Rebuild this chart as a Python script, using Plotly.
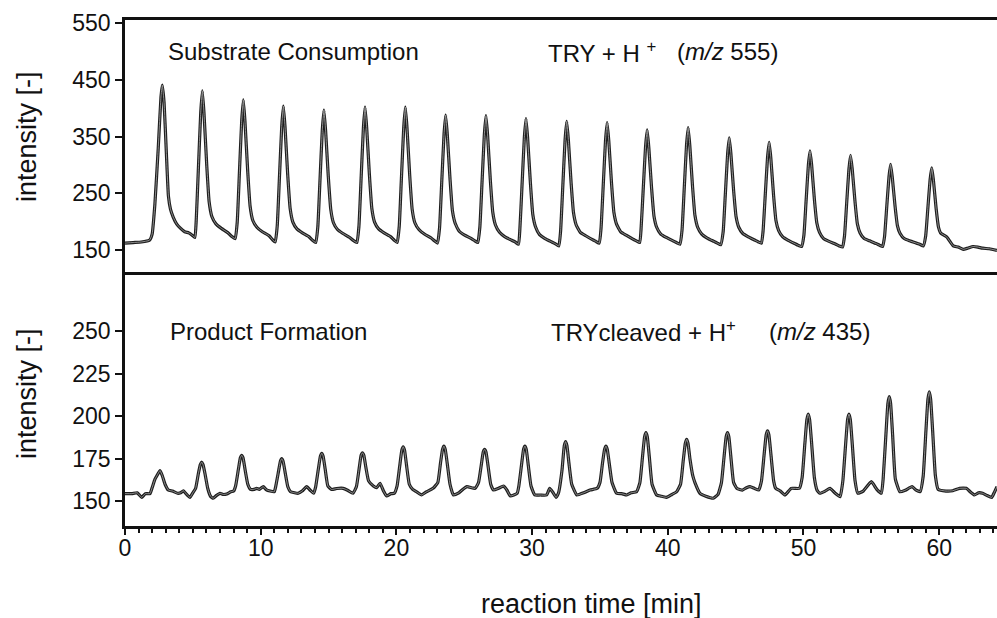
import plotly.graph_objects as go

# ---------------- data ----------------
top_time = [
    0.0, 0.6, 1.2, 1.8, 2.0, 2.2, 2.45, 2.65, 2.75, 2.88, 3.05, 3.2, 3.35, 3.55, 3.8, 4.1, 4.4, 4.7, 4.95, 5.15,
    5.25, 5.40, 5.58, 5.70, 5.82, 6.02, 6.20, 6.40, 6.70, 7.10, 7.60, 7.85, 8.12,
    8.27, 8.42, 8.60, 8.72, 8.84, 9.04, 9.22, 9.42, 9.72, 10.12, 10.62, 10.87, 11.07,
    11.22, 11.37, 11.55, 11.67, 11.79, 11.99, 12.17, 12.37, 12.67, 13.07, 13.57, 13.82, 14.06,
    14.21, 14.36, 14.54, 14.66, 14.78, 14.98, 15.16, 15.36, 15.66, 16.06, 16.56, 16.81, 17.09,
    17.24, 17.39, 17.57, 17.69, 17.81, 18.01, 18.19, 18.39, 18.69, 19.09, 19.59, 19.84, 20.06,
    20.21, 20.36, 20.54, 20.66, 20.78, 20.98, 21.16, 21.36, 21.66, 22.06, 22.56, 22.81, 23.03,
    23.18, 23.33, 23.51, 23.63, 23.75, 23.95, 24.13, 24.33, 24.63, 25.03, 25.53, 25.78, 26.00,
    26.15, 26.30, 26.48, 26.60, 26.72, 26.92, 27.10, 27.30, 27.60, 28.00, 28.50, 28.75, 29.00,
    29.10, 29.25, 29.43, 29.55, 29.67, 29.87, 30.05, 30.25, 30.55, 30.95, 31.45, 31.70, 31.97,
    32.10, 32.25, 32.43, 32.55, 32.67, 32.87, 33.05, 33.25, 33.55, 33.95, 34.45, 34.70, 34.95,
    35.08, 35.23, 35.41, 35.53, 35.65, 35.85, 36.03, 36.23, 36.53, 36.93, 37.43, 37.68, 37.93,
    38.03, 38.18, 38.36, 38.48, 38.60, 38.80, 38.98, 39.18, 39.48, 39.88, 40.38, 40.63, 40.90,
    41.05, 41.20, 41.38, 41.50, 41.62, 41.82, 42.00, 42.20, 42.50, 42.90, 43.40, 43.65, 43.90,
    44.08, 44.23, 44.41, 44.53, 44.65, 44.85, 45.03, 45.23, 45.53, 45.93, 46.43, 46.68, 46.90,
    47.02, 47.17, 47.35, 47.47, 47.59, 47.79, 47.97, 48.17, 48.47, 48.87, 49.37, 49.62, 49.86,
    50.03, 50.18, 50.36, 50.48, 50.60, 50.80, 50.98, 51.18, 51.48, 51.88, 52.38, 52.63, 52.88,
    53.02, 53.17, 53.35, 53.47, 53.59, 53.79, 53.97, 54.17, 54.47, 54.87, 55.37, 55.62, 55.83,
    55.97, 56.12, 56.30, 56.42, 56.54, 56.74, 56.92, 57.12, 57.42, 57.82, 58.32, 58.57, 58.83,
    59.00, 59.15, 59.33, 59.45, 59.57, 59.77, 59.95, 60.10, 60.55, 61.04, 61.40, 61.78, 62.10, 62.50, 62.85, 63.20, 63.70, 64.26,
]
top_intensity = [
    162, 163, 164, 167, 178, 230, 330, 420, 441, 410, 320, 245, 222, 208, 196, 188, 182, 180, 176, 172,
    203, 289, 392, 431, 392, 301, 235, 209, 196, 188, 180, 174, 170,
    199, 280, 378, 415, 377, 290, 227, 202, 190, 182, 175, 168, 164,
    193, 272, 368, 404, 368, 283, 223, 199, 187, 180, 173, 167, 163,
    191, 268, 362, 397, 362, 280, 222, 198, 186, 179, 172, 167, 163,
    192, 271, 366, 402, 366, 283, 223, 199, 187, 180, 173, 167, 163,
    192, 271, 366, 402, 366, 282, 222, 198, 186, 178, 171, 166, 162,
    189, 264, 354, 388, 354, 276, 219, 197, 183, 176, 170, 166, 163,
    190, 264, 353, 387, 353, 274, 217, 194, 181, 173, 167, 164, 160,
    187, 260, 349, 382, 348, 270, 213, 191, 177, 170, 164, 161, 157,
    183, 256, 344, 377, 345, 270, 216, 194, 181, 175, 168, 165, 162,
    188, 258, 343, 375, 343, 269, 216, 195, 182, 176, 169, 166, 163,
    187, 253, 332, 362, 331, 261, 210, 190, 178, 172, 166, 163, 160,
    185, 253, 335, 366, 335, 263, 211, 190, 178, 171, 165, 162, 159,
    182, 244, 320, 348, 320, 255, 209, 190, 179, 173, 167, 164, 162,
    183, 242, 313, 340, 313, 248, 202, 184, 173, 167, 161, 158, 156,
    176, 232, 300, 325, 300, 240, 198, 181, 170, 165, 160, 157, 155,
    174, 228, 293, 317, 293, 237, 196, 180, 170, 166, 161, 158, 156,
    173, 221, 279, 301, 279, 229, 193, 179, 170, 166, 162, 160, 157,
    174, 219, 274, 295, 274, 224, 190, 180, 173, 157, 155, 151, 153, 156, 155, 153, 152, 149,
]

bottom_time = [
    0.0, 0.5, 0.9, 1.23, 1.5, 1.84, 2.0, 2.21, 2.35, 2.58, 2.75, 2.95, 3.19, 3.5, 3.87, 4.1, 4.3, 4.55, 4.79, 5.0,
    5.2, 5.4, 5.55, 5.65, 5.75, 5.9, 6.1, 6.3, 6.5, 6.75, 7.0, 7.25, 7.5, 7.8, 8.0,
    8.15, 8.35, 8.5, 8.6, 8.7, 8.85, 9.05, 9.25, 9.5, 9.7, 9.9, 10.19, 10.4, 10.7, 11.0,
    11.1, 11.3, 11.45, 11.55, 11.65, 11.8, 12.0, 12.2, 12.5, 12.76, 13.05, 13.39, 13.65, 13.9,
    14.05, 14.25, 14.4, 14.5, 14.6, 14.75, 14.95, 15.23, 15.6, 16.07, 16.4, 16.8,
    17.05, 17.25, 17.4, 17.5, 17.6, 17.75, 17.95, 18.3, 18.55, 18.8, 19.05, 19.28, 19.6, 19.85,
    20.05, 20.25, 20.4, 20.5, 20.6, 20.75, 20.95, 21.2, 21.5, 21.85, 22.2, 22.7,
    23.05, 23.25, 23.4, 23.5, 23.6, 23.75, 23.95, 24.2, 24.6, 24.9, 25.2, 25.8,
    26.05, 26.25, 26.4, 26.5, 26.6, 26.75, 26.95, 27.15, 27.5, 27.9, 28.15, 28.4, 28.9,
    29.02, 29.22, 29.37, 29.47, 29.57, 29.72, 29.92, 30.2, 30.6, 31.07, 31.3, 31.55, 31.77,
    31.95, 32.2, 32.37, 32.47, 32.57, 32.72, 32.92, 33.3, 33.8, 34.27, 34.8,
    35.0, 35.19, 35.34, 35.44, 35.54, 35.69, 35.89, 36.23, 36.6, 36.97, 37.3, 37.7,
    37.94, 38.14, 38.29, 38.39, 38.49, 38.64, 38.84, 39.18, 39.5, 39.9, 40.3, 40.65,
    40.94, 41.14, 41.29, 41.39, 41.49, 41.64, 41.84, 42.0, 42.37, 42.8, 43.35, 43.7,
    43.95, 44.15, 44.3, 44.4, 44.5, 44.65, 44.85, 45.1, 45.5, 45.8, 46.06, 46.4, 46.7,
    46.9, 47.1, 47.25, 47.35, 47.45, 47.6, 47.8, 47.95, 48.3, 48.63, 49.1, 49.7,
    49.9, 50.1, 50.25, 50.35, 50.45, 50.6, 50.8, 51.0, 51.2, 51.6, 51.95, 52.3, 52.7,
    52.9, 53.1, 53.25, 53.35, 53.45, 53.6, 53.8, 54.0, 54.4, 55.0, 55.4, 55.74,
    55.87, 56.07, 56.22, 56.32, 56.42, 56.57, 56.77, 57.1, 57.5, 58.0, 58.3, 58.6,
    58.82, 59.02, 59.17, 59.27, 59.37, 59.52, 59.72, 59.92, 60.5, 61.0, 61.5, 62.0, 62.3, 62.6, 62.9, 63.2, 63.5, 63.87, 64.05, 64.26,
]
bottom_intensity = [
    154.5, 154.5, 155, 152.3, 154.5, 154.5, 158, 163, 165, 168, 165, 160, 156.6, 156, 154.7, 155, 156.2, 154, 152.3, 155,
    157.5, 166, 171.5, 173, 171.5, 166, 157.5, 153, 151.8, 153.5, 154.7, 154, 154.3, 155.6, 156,
    159, 168.5, 175.5, 177, 175.5, 168.5, 160, 157, 157, 157.6, 157, 158.6, 156.9, 156, 155.6,
    158.5, 167, 173.5, 175, 173.5, 167, 158.5, 155.6, 155, 154.7, 156, 158.6, 156.5, 154.7,
    158.5, 169, 176.5, 178.2, 176.5, 169, 159, 156.9, 157.5, 157.6, 156.5, 154.7,
    158.5, 169, 177, 178.5, 177, 170, 162, 159, 158, 160.6, 156, 153.1, 154.5, 154.7,
    159, 171, 180, 182, 180, 171, 160, 157, 155.5, 153.7, 155.5, 157.6,
    161, 172.5, 180.5, 182.4, 180.5, 172, 160, 153.7, 155, 157, 158.6, 157.6,
    161, 171, 179, 180.5, 179, 171, 160, 156.6, 157.5, 159, 156.5, 153.1, 154.7,
    158.8, 171.3, 180.5, 182.4, 180.5, 171, 159, 153.7, 153.7, 153.7, 157.6, 155, 152.3,
    155, 168, 182.5, 185, 182.5, 172, 160, 153.7, 155, 156.6, 157.6,
    161, 172.5, 180.5, 182.4, 180.5, 172, 161, 154.7, 154.5, 153.7, 155, 155.6,
    160.8, 176.4, 187.8, 190.3, 187.8, 176, 160, 153.7, 153, 152.3, 154, 155.6,
    160, 174, 184, 186.4, 184, 174.5, 165, 161, 154.7, 153, 151.8, 154,
    160.8, 176.4, 187.8, 190.3, 187.8, 176, 161, 157.5, 156.6, 158, 158.6, 157.5, 156.6,
    161.8, 177.5, 189, 191.4, 189, 177.5, 162, 157.6, 156, 153.7, 157.6, 157.6,
    164, 183.8, 198, 201.2, 198, 184, 164, 156.5, 154.7, 156, 157.6, 155, 152.7,
    162, 183, 198, 201.2, 198, 183, 162, 154.7, 156, 161.5, 157, 154.7,
    163.2, 188.7, 207.4, 211.4, 207.4, 188.7, 163, 155.6, 156.5, 158.6, 156.5, 155.7,
    164.7, 191, 210, 214.3, 210, 191, 165, 157, 156, 156.2, 157.6, 157.6, 155.5, 153.7, 155, 154.7, 153.5, 152.3, 155, 158.6,
]

x_ticks = [0, 10, 20, 30, 40, 50, 60]
top_ticks = [150, 250, 350, 450, 550]
bottom_ticks = [150, 175, 200, 225, 250]

# ---------------- figure ----------------
FONT = "Liberation Sans, Arial, Helvetica, sans-serif"
INK = "#111111"
fig = go.Figure()

for xs, ys, xa, ya in [(top_time, top_intensity, "x", "y"),
                       (bottom_time, bottom_intensity, "x2", "y2")]:
    fig.add_trace(go.Scatter(x=xs, y=ys, xaxis=xa, yaxis=ya, mode="lines",
                             line=dict(color="#1e1e1e", width=3.2, shape="spline", smoothing=0.4),
                             hoverinfo="skip", showlegend=False))
    fig.add_trace(go.Scatter(x=xs, y=ys, xaxis=xa, yaxis=ya, mode="lines",
                             line=dict(color="#9a9a9a", width=0.9, shape="spline", smoothing=0.4),
                             hoverinfo="skip", showlegend=False))

split = 0.502
axis_common = dict(showgrid=False, zeroline=False, showline=True, linecolor=INK, linewidth=2.6)

fig.update_layout(
    width=997, height=618,
    margin=dict(l=125, r=0, t=20, b=92),
    paper_bgcolor="white", plot_bgcolor="white",
    font=dict(family=FONT, color=INK),
    xaxis=dict(domain=[0, 1], anchor="y", range=[0, 64.26], mirror=True,
               showticklabels=False, ticks="", **axis_common),
    xaxis2=dict(domain=[0, 1], anchor="y2", range=[0, 64.26], tickvals=x_ticks,
                ticks="outside", ticklen=6, tickwidth=2, tickcolor=INK,
                ticklabelstandoff=-6,
                minor=dict(dtick=1, tick0=0, ticks="outside", ticklen=4, tickwidth=1.5, tickcolor=INK),
                tickfont=dict(size=23, family=FONT, color=INK), **axis_common),
    yaxis=dict(domain=[split, 1], anchor="x", range=[111, 556], tickvals=top_ticks,
               ticks="outside", ticklen=7, tickwidth=2, tickcolor=INK,
               tickfont=dict(size=23, family=FONT, color=INK), **axis_common),
    yaxis2=dict(domain=[0, split], anchor="x2", range=[135.5, 284.6], tickvals=bottom_ticks,
                ticks="outside", ticklen=7, tickwidth=2, tickcolor=INK,
                tickfont=dict(size=23, family=FONT, color=INK), **axis_common),
)

def px_x(px):
    return (px - 125) / 872.0

def px_y(py):
    return (526 - py) / 506.0

ann = [
    dict(text="Substrate Consumption", x=px_x(166), y=px_y(52), size=24),
    dict(text="TRY + H <sup>+</sup>", x=px_x(546), y=px_y(52), size=24),
    dict(text="(<i>m/z</i> 555)", x=px_x(675), y=px_y(52), size=24),
    dict(text="Product Formation", x=px_x(168), y=px_y(331), size=24),
    dict(text="TRYcleaved + H<sup>+</sup>", x=px_x(549), y=px_y(331), size=24),
    dict(text="(<i>m/z</i> 435)", x=px_x(767), y=px_y(331), size=24),
]
for a in ann:
    fig.add_annotation(text=a["text"], x=a["x"], y=a["y"], xref="paper", yref="paper",
                       xanchor="left", yanchor="middle", showarrow=False,
                       font=dict(size=a["size"], family=FONT, color=INK))

for yc in (137, 394):
    fig.add_annotation(text="intensity [-]", x=px_x(27), y=px_y(yc), xref="paper", yref="paper",
                       xanchor="center", yanchor="middle", textangle=-90, showarrow=False,
                       font=dict(size=27, family=FONT, color=INK))

fig.add_annotation(text="reaction time [min]", x=px_x(591), y=px_y(604), xref="paper", yref="paper",
                   xanchor="center", yanchor="middle", showarrow=False,
                   font=dict(size=27, family=FONT, color=INK))

fig.write_html("out.html")
